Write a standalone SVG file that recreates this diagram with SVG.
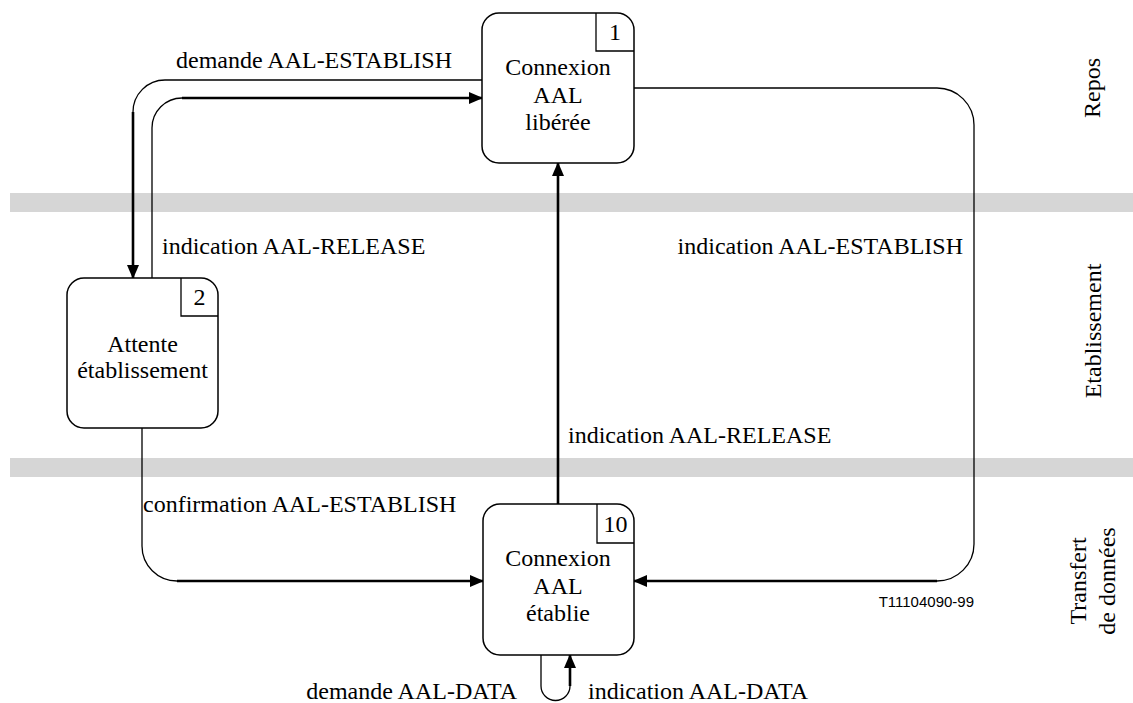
<svg xmlns="http://www.w3.org/2000/svg" width="1133" height="703" viewBox="0 0 1133 703">
<style>
text{font-family:"Liberation Serif","Times New Roman",serif;font-size:24px;fill:#000}
.c{text-anchor:middle}
.e{text-anchor:end}
.node{fill:#fff;stroke:#000;stroke-width:1.5}
.nb{fill:none;stroke:#000;stroke-width:1.3}
.thin{fill:none;stroke:#000;stroke-width:1.3}
.thick{fill:none;stroke:#000;stroke-width:2.6;marker-end:url(#arr)}
.band{fill:#d6d6d6}
.ref{font-family:"Liberation Sans",Arial,sans-serif;font-size:15px}
</style>
<defs>
<marker id="arr" markerUnits="userSpaceOnUse" markerWidth="14" markerHeight="12" viewBox="0 0 14 12" refX="13" refY="6" orient="auto">
<path d="M0,0 L14,6 L0,12 z" fill="#000"/>
</marker>
</defs>
<rect width="1133" height="703" fill="#fff"/>
<g id="bands">
<rect class="band" x="10" y="193" width="1123" height="19"/>
<rect class="band" x="10" y="458" width="1123" height="19"/>
</g>
<g id="phases">
<text class="c" transform="translate(1100,88) rotate(-90)">Repos</text>
<text class="c" transform="translate(1101,331) rotate(-90)">Etablissement</text>
<text class="c" transform="translate(1086,581) rotate(-90)"><tspan x="0" y="0">Transfert</tspan><tspan x="0" y="29">de données</tspan></text>
</g>
<g id="connectors">
<path class="thin" d="M482,80 H165 A32,32 0 0 0 133,112"/>
<path class="thick" d="M133,112 V278"/>
<path class="thin" d="M152,278 V128 A30,30 0 0 1 182,98"/>
<path class="thick" d="M182,98 H482"/>
<path class="thin" d="M142,428 V546 A35,35 0 0 0 177,581"/>
<path class="thick" d="M177,581 H483"/>
<path class="thick" d="M558,504 V163"/>
<path class="thin" d="M634,88 H937 A37,37 0 0 1 974,125 V544 A37,37 0 0 1 937,581"/>
<path class="thick" d="M937,581 H634"/>
<path class="thin" d="M541,655 V686 A14.5,14.5 0 0 0 570,686"/>
<path class="thick" d="M570,686 V655"/>
<text x="176" y="68">demande AAL-ESTABLISH</text>
<text x="162" y="254">indication AAL-RELEASE</text>
<text class="e" x="963" y="254">indication AAL-ESTABLISH</text>
<text x="568" y="443">indication AAL-RELEASE</text>
<text x="143" y="512">confirmation AAL-ESTABLISH</text>
<text class="e" x="517" y="699">demande AAL-DATA</text>
<text x="588" y="699">indication AAL-DATA</text>
</g>
<g id="node1">
<rect class="node" x="482" y="13" width="152" height="150" rx="17" ry="17"/>
<path class="nb" d="M596,13 V51 H634"/>
<text class="c" x="615" y="40">1</text>
<text class="c" x="558" y="75">Connexion</text>
<text class="c" x="558" y="103">AAL</text>
<text class="c" x="558" y="130">libérée</text>
</g>
<g id="node2">
<rect class="node" x="67" y="278" width="151" height="150" rx="17" ry="17"/>
<path class="nb" d="M181,278 V316 H218"/>
<text class="c" x="199.5" y="305">2</text>
<text class="c" x="142.5" y="352">Attente</text>
<text class="c" x="142.5" y="378">établissement</text>
</g>
<g id="node10">
<rect class="node" x="483" y="504" width="151" height="151" rx="17" ry="17"/>
<path class="nb" d="M597,504 V543 H634"/>
<text class="c" x="615.5" y="532">10</text>
<text class="c" x="558" y="566">Connexion</text>
<text class="c" x="558" y="594">AAL</text>
<text class="c" x="558" y="621">établie</text>
</g>
<text class="ref e" x="974" y="607">T11104090-99</text>
</svg>
